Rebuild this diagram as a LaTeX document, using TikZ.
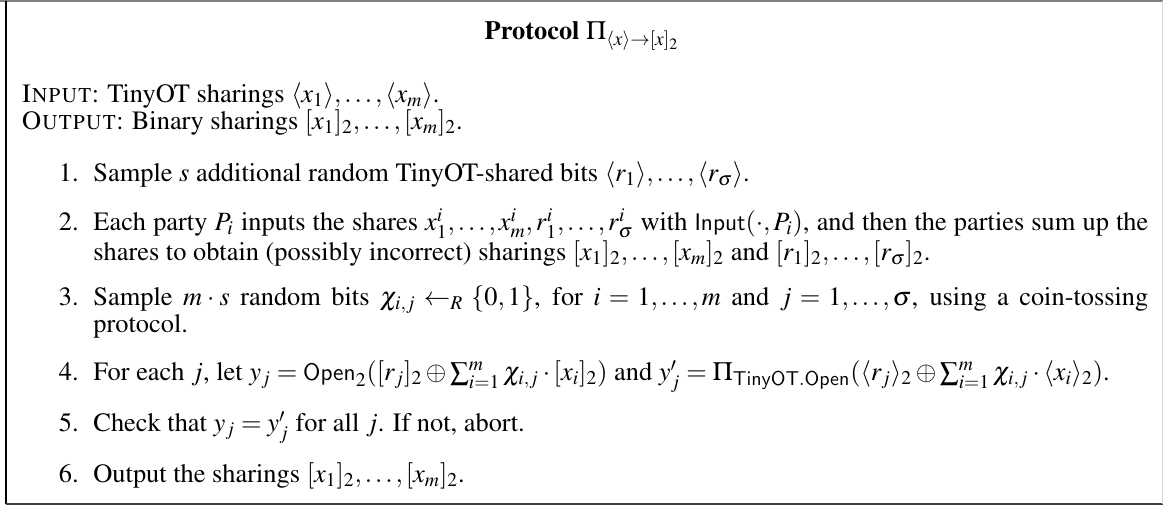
\documentclass[tikz,border=0pt]{standalone}
\usepackage[T1]{fontenc}
\usepackage{mathptmx}
\usepackage{amsmath}
\usepackage{tikz}
\usetikzlibrary{positioning}

\DeclareMathAlphabet{\mathsf}{OT1}{cmss}{m}{n}
\newcommand{\itemfont}{\fontsize{13.2}{13.5}\selectfont}

\begin{document}
\begin{tikzpicture}[x=0.5pt,y=-0.5pt,
    txt/.style={anchor=base west,inner sep=0pt,font=\itemfont},
    itemtxt/.style={txt,text width=527.5pt,align=justify},
    num/.style={inner sep=0pt,font=\itemfont}]
            \useasboundingbox (0,0) rectangle (1163,507);
            % frame
            \draw[gray,line width=1pt] (0,1)--(1163,1);
            \draw[black,line width=0.8pt] (6,1)--(6,504);
            \draw[black!75,line width=1pt] (6,504)--(1163,504);
            \draw[black!15,line width=0.5pt] (1162,1)--(1162,504);
            % title
            \node[txt,anchor=base] (title) at (582,40) {\textbf{Protocol} $\Pi_{\langle x\rangle\to[x]_2}$};
            \node[txt] (input) at (21,103) {\textsc{Input}: TinyOT sharings $\langle x_1\rangle,\dots,\langle x_m\rangle$.};
            \node[txt] (output) at (21,130) {\textsc{Output}: Binary sharings $[x_1]_2,\dots,[x_m]_2$.};
            % steps
            \node[itemtxt] (t1) at (93,182) {Sample $s$ additional random TinyOT-shared bits $\langle r_1\rangle,\dots,\langle r_\sigma\rangle$.};
            \node[itemtxt] (t2) at (93,231) {Each party $P_i$ inputs the shares $x_1^i,\dots,x_m^i,r_1^i,\dots,r_\sigma^i$ with $\mathsf{Input}(\cdot,P_i)$, and then the parties sum up the\linebreak shares to obtain (possibly incorrect) sharings $[x_1]_2,\dots,[x_m]_2$ and $[r_1]_2,\dots,[r_\sigma]_2$.};
            \node[itemtxt] (t3) at (93,306) {Sample $m\cdot s$ random bits $\chi_{i,j}\leftarrow_R\{0,1\}$, for $i=1,\dots,m$ and $j=1,\dots,\sigma$, using a coin-tossing\linebreak protocol.};
            \node[itemtxt] (t4) at (93,381) {For each $j$, let $y_j=\mathsf{Open}_2([r_j]_2\oplus\sum_{i=1}^m\chi_{i,j}\cdot[x_i]_2)$ and $y'_j=\Pi_{\mathsf{TinyOT.Open}}(\langle r_j\rangle_2\oplus\sum_{i=1}^m\chi_{i,j}\cdot\langle x_i\rangle_2)$.};
            \node[itemtxt] (t5) at (93,432) {Check that $y_j=y'_j$ for all $j$. If not, abort.};
            \node[itemtxt] (t6) at (93,483) {Output the sharings $[x_1]_2,\dots,[x_m]_2$.};
            \node[num,left=7pt of t1.base west,anchor=base east] (n1) {1.};
            \node[num,left=7pt of t2.base west,anchor=base east] (n2) {2.};
            \node[num,left=7pt of t3.base west,anchor=base east] (n3) {3.};
            \node[num,left=7pt of t4.base west,anchor=base east] (n4) {4.};
            \node[num,left=7pt of t5.base west,anchor=base east] (n5) {5.};
            \node[num,left=7pt of t6.base west,anchor=base east] (n6) {6.};
\end{tikzpicture}
\end{document}
